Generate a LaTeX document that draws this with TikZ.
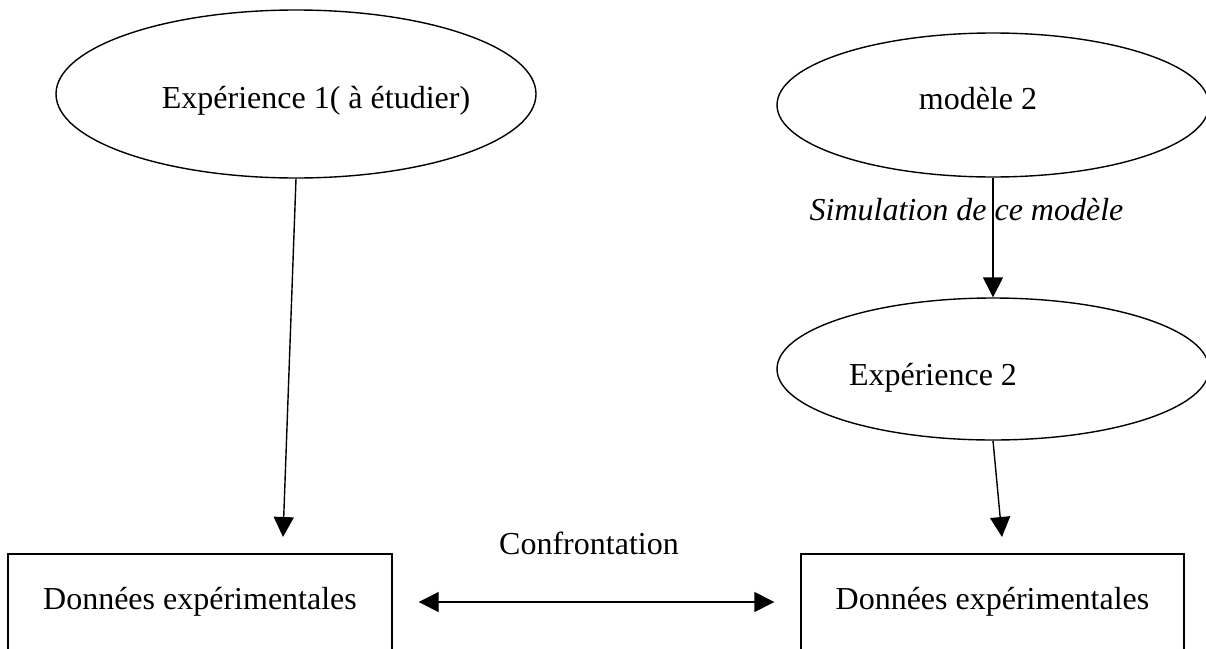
\documentclass[tikz,border=0pt]{standalone}
\usepackage{fontspec}
\setmainfont{Liberation Serif}
\usetikzlibrary{shapes.geometric,arrows.meta}
\begin{document}
\begin{tikzpicture}[x=1pt,y=-1pt,
  oval/.style={ellipse,draw,line width=1.4pt,inner sep=0pt},
  box/.style={rectangle,draw,line width=1.4pt,inner sep=0pt,font=\fontsize{32}{38}\selectfont},
  lbl/.style={font=\fontsize{32}{38}\selectfont,inner sep=0pt},
  conn/.style={line width=1.4pt,-{Triangle[length=20pt,width=20pt]}},
  dconn/.style={line width=1.4pt,{Triangle[length=20pt,width=20pt]}-{Triangle[length=20pt,width=20pt]}},
]
\useasboundingbox (0,0) rectangle (1206,648);
\clip (0,0) rectangle (1206,648);

% ellipses
\node[oval,minimum width=480pt,minimum height=168pt] (e1) at (296,94) {};
\node[oval,minimum width=432pt,minimum height=144pt] (e2) at (993,105) {};
\node[oval,minimum width=432pt,minimum height=142pt] (e3) at (993,369) {};

% ellipse texts
\node[lbl] (t1) at (316,101) {Expérience 1( à étudier)};
\node[lbl] (t2) at (978,99) {modèle 2};
\node[lbl] (t3) at (933,378) {Expérience 2};

% boxes
\node[box,minimum width=384pt,minimum height=96pt] (r1) at (200,602) {Données expérimentales};
\node[box,minimum width=383pt,minimum height=96pt] (r2) at (992.5,602) {Données expérimentales};

% free ends
\coordinate (a1) at (283,537);
\coordinate (a3) at (1002,537);

% connectors
\draw[conn] (e1.south) -- (a1);
\draw[conn] (e2.south) -- (e3.north);
\draw[conn] (e3.south) -- (a3);
\draw[dconn] ([xshift=26pt]r1.east) -- ([xshift=-26pt]r2.west);

% labels
\node[lbl,font=\fontsize{32}{38}\selectfont\itshape] (sim) at (966.5,210) {Simulation de ce modèle};
\node[lbl] (conf) at (589,543) {Confrontation};
\end{tikzpicture}
\end{document}
